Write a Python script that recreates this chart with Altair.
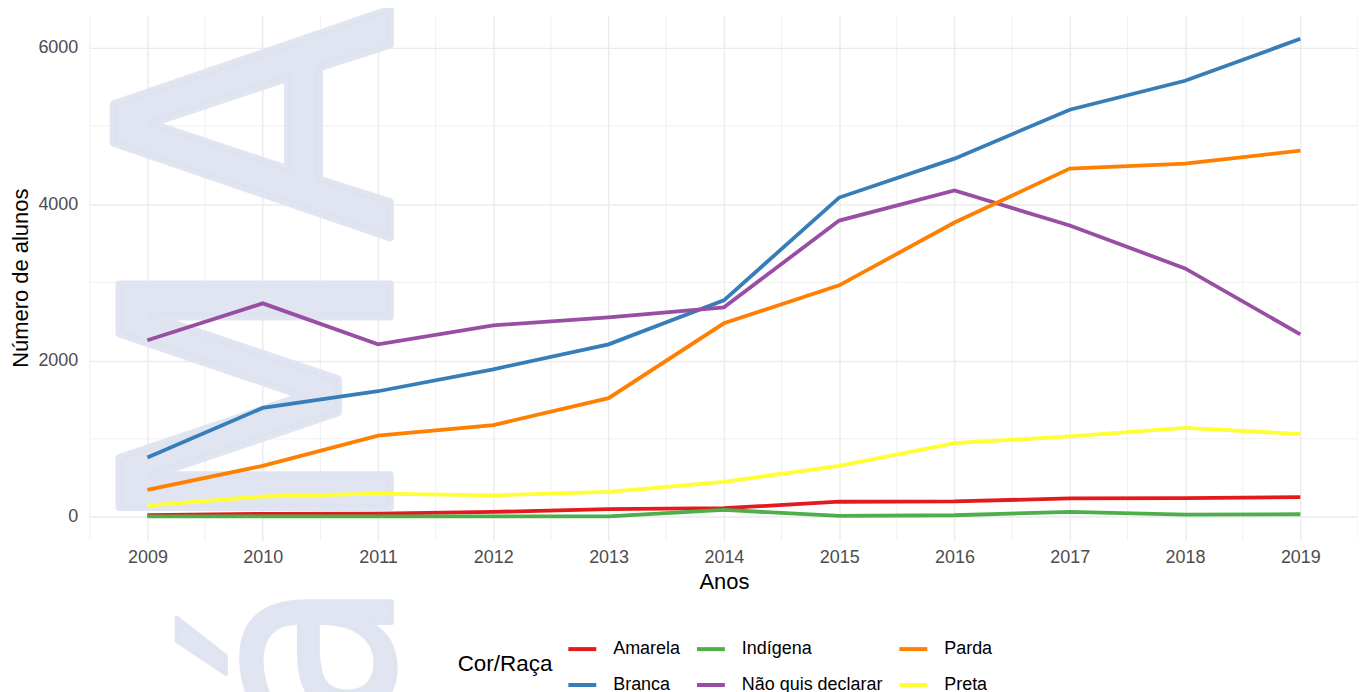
import altair as alt
import pandas as pd

years = [2009, 2010, 2011, 2012, 2013, 2014, 2015, 2016, 2017, 2018, 2019]
amarela = [25, 39, 43, 65, 100, 113, 195, 199, 238, 242, 255]
branca = [762, 1395, 1608, 1889, 2208, 2770, 4085, 4583, 5208, 5579, 6115]
indigena = [8, 8, 8, 8, 8, 91, 13, 22, 65, 30, 35]
nao_declarar = [2260, 2732, 2208, 2451, 2553, 2681, 3791, 4175, 3728, 3179, 2336]
parda = [346, 654, 1039, 1175, 1519, 2477, 2962, 3766, 4455, 4519, 4685]
preta = [145, 262, 298, 277, 320, 450, 654, 944, 1030, 1139, 1061]

categories = ["Amarela", "Branca", "Indígena", "Não quis declarar", "Parda", "Preta"]
colors = ["#E41A1C", "#377EB8", "#4DAF4A", "#984EA3", "#FF7F00", "#FFFF33"]
legend_order = ["Amarela", "Indígena", "Parda", "Branca", "Não quis declarar", "Preta"]

x_minor = [2008.5, 2009.5, 2010.5, 2011.5, 2012.5, 2013.5, 2014.5, 2015.5,
           2016.5, 2017.5, 2018.5, 2019.5]
y_minor = [1000, 3000, 5000]
y_ticks = [0, 2000, 4000, 6000]

series = [amarela, branca, indigena, nao_declarar, parda, preta]
rows = []
for cat, vals in zip(categories, series):
    for yr, v in zip(years, vals):
        rows.append({"Ano": yr, "Alunos": v, "Cor/Raça": cat})
df = pd.DataFrame(rows)

FONT = "Liberation Sans"
WM = "#DEE3F0"
xscale = alt.Scale(domain=[2008.5, 2019.5], nice=False, zero=False)
yscale = alt.Scale(domain=[-300, 6420], nice=False, zero=False)
color_map = dict(zip(categories, colors))

vgrid = alt.Chart(pd.DataFrame({"x": x_minor})).mark_rule(
    color="#EBEBEB", strokeWidth=0.8
).encode(x=alt.X("x:Q", scale=xscale))

hgrid = alt.Chart(pd.DataFrame({"y": y_minor})).mark_rule(
    color="#EBEBEB", strokeWidth=0.8
).encode(y=alt.Y("y:Q", scale=yscale))


def wm_letter(ch, size, stroke, align, xpos, ypos):
    return alt.Chart(pd.DataFrame({"t": [ch]})).mark_text(
        angle=270, align=align, baseline="alphabetic",
        font="DejaVu Sans Condensed, Liberation Sans",
        fontSize=size, color=WM, fillOpacity=0.92,
        stroke=WM, strokeWidth=stroke, strokeJoin="round", strokeOpacity=0.92,
    ).encode(text="t:N", x=alt.value(xpos), y=alt.value(ypos))


wm_a = wm_letter("A", 380, 8, "right", 301, -8)
wm_m = wm_letter("M", 372, 8, "center", 301, 382)
wm_lower = wm_letter("á", 270, 4, "right", 303, 566)

lines = alt.Chart(df).mark_line(strokeWidth=3.8).encode(
    x=alt.X("Ano:Q", scale=xscale, title="Anos",
            axis=alt.Axis(values=years, format="d")),
    y=alt.Y("Alunos:Q", scale=yscale, title="Número de alunos",
            axis=alt.Axis(values=y_ticks, format="d")),
    color=alt.Color(
        "Cor/Raça:N",
        scale=alt.Scale(domain=legend_order,
                        range=[color_map[c] for c in legend_order]),
        legend=alt.Legend(
            title="Cor/Raça", orient="none", legendX=369, legendY=620,
            direction="horizontal", columns=3, titleOrient="left",
            titleAnchor="middle", titleBaseline="middle",
            symbolType="stroke", symbolStrokeWidth=4, symbolSize=784,
            labelFontSize=18, titleFontSize=22.5, labelFont=FONT, titleFont=FONT,
            labelColor="#000000", titleColor="#000000", titleFontWeight="normal",
            columnPadding=8, rowPadding=11, labelOffset=15, titlePadding=13,
        ),
    ),
    detail="Cor/Raça:N",
)

chart = alt.layer(vgrid, hgrid, wm_a, wm_m, wm_lower, lines).properties(
    width=1272, height=527,
    autosize=alt.AutoSizeParams(type="none"),
    padding={"left": 82, "top": 6, "right": 0, "bottom": 151},
).configure_view(stroke=None).configure_axis(
    grid=True, gridColor="#EBEBEB", gridWidth=1.4, domain=False, ticks=False,
    labelFont=FONT, labelFontSize=18, labelColor="#4D4D4D",
    titleFont=FONT, titleFontSize=22, titleColor="#000000", titleFontWeight="normal",
).configure_axisX(labelPadding=8, titlePadding=5).configure_axisY(
    labelPadding=12, titlePadding=5
)

chart.save("out.html", embed_options={"renderer": "svg", "actions": False})
